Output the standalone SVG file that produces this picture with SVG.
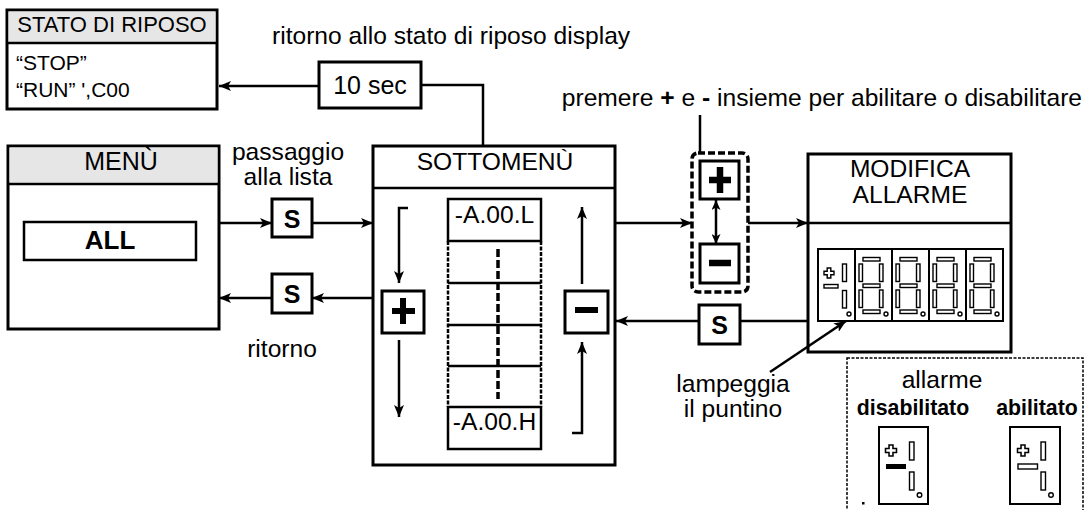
<svg xmlns="http://www.w3.org/2000/svg" width="1089" height="510" viewBox="0 0 1089 510">
<style>
text{font-family:"Liberation Sans",Arial,sans-serif;fill:#000}
.t24{font-size:24.6px}
.b{font-weight:bold}
.box{fill:#fff;stroke:#000;stroke-width:3}
.hdr{fill:#e6e6e6;stroke:none}
.ln{fill:none;stroke:#000;stroke-width:2.5}
.seg{fill:#fff;stroke:#000;stroke-width:1.4}
</style>
<defs>
<marker id="arr" markerUnits="userSpaceOnUse" markerWidth="13" markerHeight="10" refX="12" refY="5" orient="auto">
<path d="M0,0 L12,5 L0,10 L3,5 z" fill="#000"/>
</marker>
<marker id="arrS" markerUnits="userSpaceOnUse" markerWidth="11" markerHeight="9" refX="10" refY="4.5" orient="auto-start-reverse">
<path d="M0,0 L10,4.5 L0,9 L2.5,4.5 z" fill="#000"/>
</marker>
<g id="digit">
<rect class="seg" x="8" y="8.5" width="17" height="3.5"/>
<rect class="seg" x="4" y="15" width="3.5" height="17.5"/>
<rect class="seg" x="24.5" y="15" width="3.5" height="17.5"/>
<rect class="seg" x="8" y="35" width="17" height="3.5"/>
<rect class="seg" x="4" y="41" width="3.5" height="17.5"/>
<rect class="seg" x="24.5" y="41" width="3.5" height="17.5"/>
<rect class="seg" x="8" y="61" width="17" height="3.5"/>
<circle class="seg" cx="31" cy="65" r="2"/>
</g>
<path id="cross" d="M-1.8,-5 h3.6 v3.2 h3.2 v3.6 h-3.2 v3.2 h-3.6 v-3.2 h-3.2 v-3.6 h3.2 z" class="seg"/>
</defs>

<g id="stato">
<rect class="box" x="7" y="10" width="210" height="99"/>
<rect class="hdr" x="8.5" y="11.5" width="207" height="31"/>
<line class="ln" x1="7" y1="43" x2="217" y2="43" stroke-width="3"/>
<text x="112" y="32" font-size="22" text-anchor="middle">STATO DI RIPOSO</text>
<text x="16" y="70" font-size="21">“STOP”</text>
<text x="16" y="97" font-size="21">“RUN” ',C00</text>
</g>

<g id="menu">
<rect class="box" x="8" y="146" width="211" height="183"/>
<rect class="hdr" x="9.5" y="147.5" width="208" height="35"/>
<line class="ln" x1="8" y1="184" x2="219" y2="184" stroke-width="3"/>
<text x="121" y="170" font-size="25" text-anchor="middle">MENÙ</text>
<rect x="24" y="222" width="172" height="38" fill="#fff" stroke="#000" stroke-width="2.5"/>
<text x="110" y="249" font-size="26" class="b" text-anchor="middle">ALL</text>
</g>

<g id="s1">
<rect class="box" x="272" y="199" width="40" height="38" stroke-width="2.5"/>
<text x="292" y="228" font-size="25" class="b" text-anchor="middle">S</text>
</g>
<g id="s2">
<rect class="box" x="272" y="274" width="40" height="39" stroke-width="2.5"/>
<text x="292" y="303" font-size="25" class="b" text-anchor="middle">S</text>
</g>
<g id="s3">
<rect class="box" x="699" y="305" width="41" height="39" stroke-width="2.5"/>
<text x="719.5" y="334" font-size="25" class="b" text-anchor="middle">S</text>
</g>

<g id="tensec">
<rect class="box" x="319" y="62" width="102" height="46" stroke-width="2.5"/>
<text x="370" y="94" font-size="25" text-anchor="middle">10 sec</text>
</g>

<g id="sottomenu">
<rect class="box" x="373" y="146" width="242" height="319"/>
<line class="ln" x1="373" y1="188" x2="615" y2="188" stroke-width="3"/>
<text x="495" y="170" class="t24" text-anchor="middle">SOTTOMENÙ</text>
<rect x="448" y="199" width="93" height="42" fill="#fff" stroke="#000" stroke-width="2.5"/>
<text x="494.5" y="223" class="t24" text-anchor="middle">-A.00.L</text>
<line x1="448" y1="241" x2="448" y2="407" stroke="#000" stroke-width="2.5" stroke-dasharray="4 1.5"/>
<line x1="541" y1="241" x2="541" y2="407" stroke="#000" stroke-width="2.5" stroke-dasharray="4 1.5"/>
<line class="ln" x1="448" y1="283" x2="541" y2="283"/>
<line class="ln" x1="448" y1="325" x2="541" y2="325"/>
<line class="ln" x1="448" y1="366" x2="541" y2="366"/>
<line x1="498" y1="249" x2="498" y2="399" stroke="#000" stroke-width="3.5" stroke-dasharray="8 3"/>
<rect x="448" y="407" width="93" height="42" fill="#fff" stroke="#000" stroke-width="2.5"/>
<text x="494.5" y="430" class="t24" text-anchor="middle">-A.00.H</text>
<rect class="box" x="382" y="291" width="42" height="42" stroke-width="2.5"/>
<path d="M392,311 h23 M403,298 v26" stroke="#000" stroke-width="6" fill="none"/>
<rect class="box" x="565" y="291" width="43" height="42" stroke-width="2.5"/>
<path d="M575,310 h23" stroke="#000" stroke-width="6" fill="none"/>
</g>

<g id="pm">
<rect x="692" y="153" width="56" height="139" rx="6" fill="#fff" stroke="#000" stroke-width="3.5" stroke-dasharray="7 3"/>
<rect class="box" x="700" y="161" width="39" height="38" stroke-width="2.5"/>
<path d="M709,180 h22 M720,167 v26" stroke="#000" stroke-width="6.5" fill="none"/>
<rect class="box" x="700" y="244" width="39" height="39" stroke-width="2.5"/>
<path d="M709,263 h22" stroke="#000" stroke-width="6.5" fill="none"/>
</g>

<g id="modifica">
<rect class="box" x="808" y="154" width="203" height="198"/>
<line class="ln" x1="808" y1="223" x2="1011" y2="223" stroke-width="3"/>
<text x="910" y="177" class="t24" text-anchor="middle">MODIFICA</text>
<text x="910" y="203" class="t24" text-anchor="middle">ALLARME</text>
<rect x="818" y="249" width="185" height="72" fill="#fff" stroke="#000" stroke-width="2"/>
<path d="M855,249 V321 M892,249 V321 M929,249 V321 M966,249 V321" stroke="#000" stroke-width="2"/>
<use href="#cross" x="829" y="273"/>
<rect class="seg" x="824" y="284.5" width="14" height="3.5"/>
<rect class="seg" x="842.5" y="264" width="4" height="17.5"/>
<rect class="seg" x="842.5" y="290.5" width="4" height="17.5"/>
<circle class="seg" cx="849" cy="314" r="2"/>
<use href="#digit" x="855" y="249"/>
<use href="#digit" x="892" y="249"/>
<use href="#digit" x="929" y="249"/>
<use href="#digit" x="966" y="249"/>
</g>

<g id="legend">
<rect x="847" y="358" width="236" height="170" fill="#fff" stroke="#000" stroke-width="1.5" stroke-dasharray="3 1.5"/>
<text x="942" y="388" class="t24" text-anchor="middle">allarme</text>
<text x="913" y="415" font-size="21.3" class="b" text-anchor="middle">disabilitato</text>
<text x="1037" y="415" font-size="21.3" class="b" text-anchor="middle">abilitato</text>
<rect x="879" y="427" width="49" height="77" fill="#fff" stroke="#000" stroke-width="2"/>
<use href="#cross" x="891" y="450.5" transform="translate(891 450.5) scale(1.1) translate(-891 -450.5)"/>
<rect x="886" y="464" width="20" height="5" fill="#000"/>
<rect class="seg" x="909.5" y="442" width="4.5" height="18"/>
<rect class="seg" x="909.5" y="472" width="4.5" height="18"/>
<circle class="seg" cx="919.5" cy="495" r="2.3"/>
<rect x="862" y="502" width="2.5" height="2.5" fill="#000"/>
<rect x="1010" y="427" width="50" height="77" fill="#fff" stroke="#000" stroke-width="2"/>
<use href="#cross" x="1023" y="450.5" transform="translate(1023 450.5) scale(1.1) translate(-1023 -450.5)"/>
<rect class="seg" x="1018" y="464" width="19.5" height="5"/>
<rect class="seg" x="1041" y="442" width="4.5" height="18"/>
<rect class="seg" x="1041" y="472" width="4.5" height="18"/>
<circle class="seg" cx="1051" cy="495" r="2.3"/>
</g>

<g id="labels">
<text x="272" y="44" class="t24">ritorno allo stato di riposo display</text>
<text x="288" y="160" class="t24" text-anchor="middle">passaggio</text>
<text x="288" y="185" class="t24" text-anchor="middle">alla lista</text>
<text x="282" y="357" class="t24" text-anchor="middle">ritorno</text>
<text x="1082" y="106" class="t24" text-anchor="end">premere <tspan class="b">+</tspan> e <tspan class="b">-</tspan> insieme per abilitare o disabilitare</text>
<text x="733" y="392" class="t24" text-anchor="middle">lampeggia</text>
<text x="733" y="417" class="t24" text-anchor="middle">il puntino</text>
</g>

<g id="connectors">
<line class="ln" x1="319" y1="86" x2="219" y2="86" marker-end="url(#arr)"/>
<polyline class="ln" points="483,146 483,85 421,85"/>
<line class="ln" x1="219" y1="223" x2="272" y2="223" marker-end="url(#arr)"/>
<line class="ln" x1="312" y1="223" x2="373" y2="223" marker-end="url(#arr)"/>
<line class="ln" x1="373" y1="298" x2="312" y2="298" marker-end="url(#arr)"/>
<line class="ln" x1="272" y1="298" x2="219" y2="298" marker-end="url(#arr)"/>
<line class="ln" x1="615" y1="223" x2="692" y2="223" marker-end="url(#arr)"/>
<line class="ln" x1="748" y1="223" x2="808" y2="223" marker-end="url(#arr)"/>
<line class="ln" x1="808" y1="321" x2="740" y2="321"/>
<line class="ln" x1="699" y1="321" x2="616" y2="321" marker-end="url(#arr)"/>
<line class="ln" x1="770" y1="372" x2="846" y2="321" marker-end="url(#arr)"/>
<line class="ln" x1="700" y1="153" x2="700" y2="115"/>
<polyline class="ln" points="408,208 399,208 399,283" marker-end="url(#arr)"/>
<line class="ln" x1="399" y1="340" x2="399" y2="417" marker-end="url(#arr)"/>
<line class="ln" x1="582" y1="284" x2="582" y2="207" marker-end="url(#arr)"/>
<polyline class="ln" points="572,433 582,433 582,342" marker-end="url(#arr)"/>
<line class="ln" x1="716" y1="200" x2="716" y2="244" marker-start="url(#arrS)" marker-end="url(#arrS)"/>
</g>
</svg>
